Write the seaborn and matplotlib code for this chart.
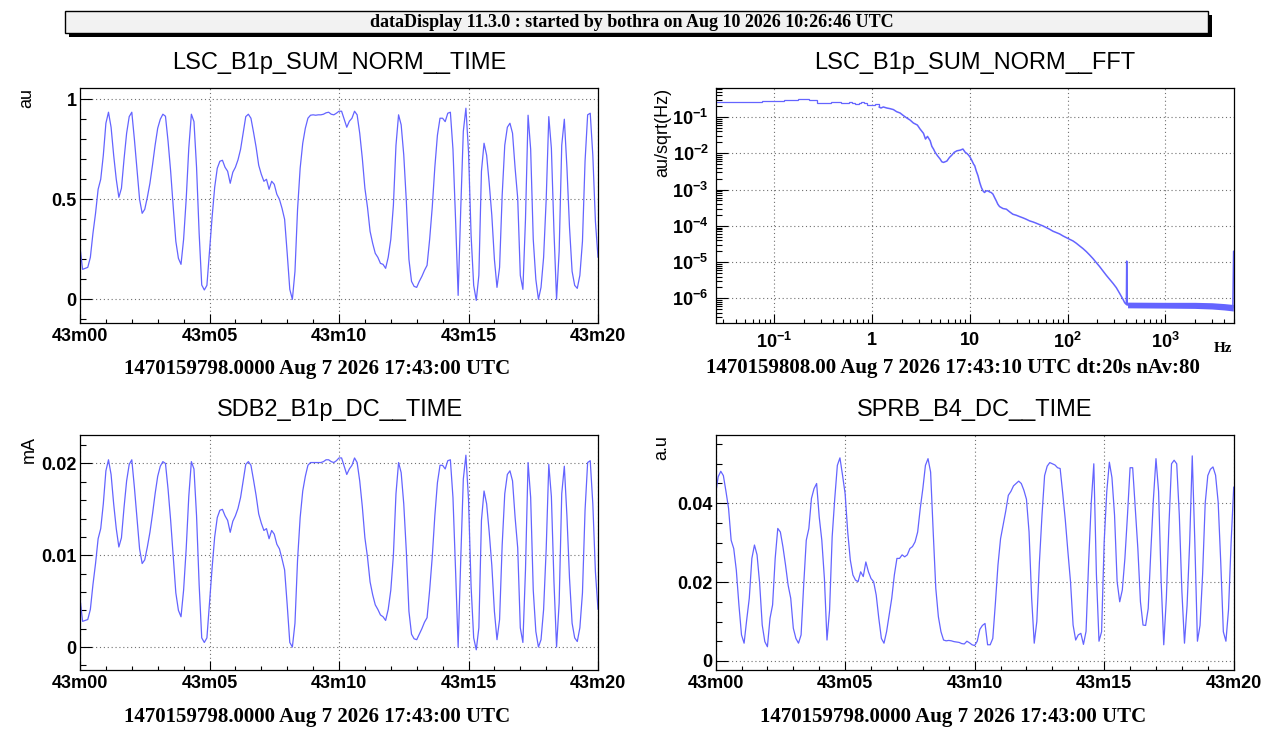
import numpy as np
import pandas as pd
import seaborn as sns
import matplotlib.pyplot as plt
from matplotlib.patches import Rectangle
from matplotlib.ticker import MultipleLocator, LogLocator, NullFormatter

W, H = 1271, 739
LINE = "#6464ff"

# ---------------- data ----------------
SAMPLE_DT = 0.1          # seconds between samples of the time series
time_ticks = [0, 5, 10, 15, 20]
time_labels = ["43m00", "43m05", "43m10", "43m15", "43m20"]

# LSC_B1p_SUM_NORM  [au]
lsc_norm = [
    0.26, 0.15, 0.155, 0.16, 0.21, 0.33, 0.43, 0.55, 0.60, 0.72,
    0.88, 0.935, 0.86, 0.72, 0.60, 0.51, 0.555, 0.70, 0.83, 0.913,
    0.935, 0.80, 0.65, 0.50, 0.43, 0.45, 0.51, 0.58, 0.672, 0.77,
    0.855, 0.90, 0.925, 0.915, 0.79, 0.64, 0.46, 0.29, 0.205, 0.175,
    0.30, 0.50, 0.755, 0.925, 0.888, 0.66, 0.33, 0.072, 0.047, 0.07,
    0.238, 0.41, 0.56, 0.655, 0.69, 0.695, 0.66, 0.64, 0.58, 0.635,
    0.66, 0.697, 0.75, 0.83, 0.913, 0.925, 0.905, 0.835, 0.76, 0.67,
    0.625, 0.59, 0.60, 0.55, 0.59, 0.575, 0.525, 0.50, 0.455, 0.40,
    0.23, 0.05, 0.0, 0.14, 0.45, 0.655, 0.78, 0.855, 0.905, 0.92,
    0.922, 0.92, 0.922, 0.922, 0.925, 0.932, 0.935, 0.925, 0.922, 0.93,
    0.94, 0.94, 0.90, 0.86, 0.89, 0.905, 0.94, 0.922, 0.83, 0.705,
    0.555, 0.46, 0.34, 0.28, 0.23, 0.21, 0.18, 0.175, 0.155, 0.21,
    0.30, 0.47, 0.77, 0.922, 0.872, 0.722, 0.49, 0.20, 0.09, 0.065,
    0.06, 0.09, 0.115, 0.145, 0.17, 0.30, 0.46, 0.66, 0.82, 0.905,
    0.905, 0.888, 0.93, 0.935, 0.75, 0.40, 0.02, 0.45, 0.84, 0.955,
    0.74, 0.32, 0.07, -0.005, 0.12, 0.64, 0.78, 0.72, 0.58, 0.42,
    0.20, 0.06, 0.16, 0.52, 0.77, 0.86, 0.88, 0.83, 0.655, 0.505,
    0.12, 0.05, 0.40, 0.92, 0.75, 0.30, 0.10, 0.00, 0.06, 0.21,
    0.50, 0.913, 0.755, 0.34, 0.00, 0.24, 0.77, 0.90, 0.66, 0.36,
    0.14, 0.07, 0.055, 0.12, 0.29, 0.69, 0.922, 0.93, 0.72, 0.39,
    0.21,
]

# SDB2_B1p_DC  [mA]
sdb2_dc = [
    0.0053, 0.0028, 0.0029, 0.0030, 0.0041, 0.0068, 0.0091, 0.0118, 0.0129, 0.0156,
    0.0192, 0.0204, 0.0188, 0.0156, 0.0129, 0.0109, 0.0119, 0.0152, 0.0181, 0.0199,
    0.0204, 0.0174, 0.0140, 0.0107, 0.0091, 0.0095, 0.0109, 0.0125, 0.0145, 0.0167,
    0.0186, 0.0197, 0.0202, 0.0200, 0.0172, 0.0138, 0.0098, 0.0059, 0.0040, 0.0033,
    0.0062, 0.0107, 0.0164, 0.0202, 0.0194, 0.0143, 0.0068, 0.0010, 0.0005, 0.0010,
    0.0048, 0.0086, 0.0120, 0.0141, 0.0149, 0.0150, 0.0143, 0.0138, 0.0125, 0.0137,
    0.0143, 0.0151, 0.0163, 0.0181, 0.0199, 0.0202, 0.0198, 0.0182, 0.0165, 0.0145,
    0.0135, 0.0127, 0.0129, 0.0118, 0.0127, 0.0123, 0.0112, 0.0107, 0.0096, 0.0084,
    0.0046, 0.0005, 0.0000, 0.0026, 0.0095, 0.0141, 0.0170, 0.0186, 0.0198, 0.0201,
    0.0201, 0.0201, 0.0201, 0.0201, 0.0202, 0.0204, 0.0204, 0.0202, 0.0201, 0.0203,
    0.0206, 0.0206, 0.0197, 0.0188, 0.0194, 0.0198, 0.0206, 0.0201, 0.0181, 0.0153,
    0.0119, 0.0098, 0.0071, 0.0057, 0.0046, 0.0041, 0.0035, 0.0033, 0.0029, 0.0041,
    0.0062, 0.0100, 0.0167, 0.0201, 0.0190, 0.0156, 0.0104, 0.0039, 0.0014, 0.0009,
    0.0008, 0.0014, 0.0020, 0.0027, 0.0032, 0.0062, 0.0098, 0.0143, 0.0179, 0.0198,
    0.0198, 0.0194, 0.0203, 0.0204, 0.0163, 0.0084, 0.0000, 0.0095, 0.0183, 0.0209,
    0.0161, 0.0066, 0.0010, -0.0003, 0.0021, 0.0138, 0.0170, 0.0156, 0.0125, 0.0089,
    0.0039, 0.0008, 0.0030, 0.0111, 0.0167, 0.0188, 0.0192, 0.0181, 0.0141, 0.0108,
    0.0021, 0.0005, 0.0084, 0.0201, 0.0163, 0.0062, 0.0017, 0.0000, 0.0008, 0.0041,
    0.0107, 0.0199, 0.0164, 0.0071, 0.0000, 0.0048, 0.0167, 0.0197, 0.0143, 0.0075,
    0.0026, 0.0010, 0.0006, 0.0021, 0.0059, 0.0149, 0.0201, 0.0203, 0.0156, 0.0082,
    0.0041,
]

# SPRB_B4_DC  [a.u]
sprb_dc = [
    0.0424, 0.0467, 0.0481, 0.0470, 0.0430, 0.0387, 0.0306, 0.0285, 0.0230, 0.0142,
    0.0066, 0.0045, 0.0104, 0.0159, 0.0260, 0.0294, 0.0269, 0.0197, 0.0091, 0.0049,
    0.0036, 0.0108, 0.0142, 0.0260, 0.0336, 0.0327, 0.0289, 0.0243, 0.0192, 0.0159,
    0.0083, 0.0057, 0.0045, 0.0066, 0.0192, 0.0306, 0.0336, 0.0412, 0.0437, 0.0450,
    0.0365, 0.0306, 0.0209, 0.0053, 0.0129, 0.0315, 0.0412, 0.0496, 0.0515, 0.0471,
    0.0424, 0.0327, 0.0256, 0.0218, 0.0205, 0.0201, 0.0226, 0.0214, 0.0251, 0.0226,
    0.0209, 0.0201, 0.0167, 0.0108, 0.0057, 0.0045, 0.0074, 0.0116, 0.0159, 0.0218,
    0.0260, 0.0260, 0.0269, 0.0264, 0.0269, 0.0285, 0.0290, 0.0302, 0.0327, 0.0387,
    0.0437, 0.0496, 0.0513, 0.0479, 0.0327, 0.0184, 0.0112, 0.0074, 0.0053, 0.0051,
    0.0052, 0.0051, 0.0049, 0.0048, 0.0047, 0.0044, 0.0043, 0.0050, 0.0046, 0.0041,
    0.0039, 0.0050, 0.0080, 0.0090, 0.0095, 0.0041, 0.0041, 0.0057, 0.0146, 0.0243,
    0.0310, 0.0345, 0.0380, 0.0420, 0.0430, 0.0444, 0.0450, 0.0456, 0.0450, 0.0433,
    0.0410, 0.0327, 0.0159, 0.0045, 0.0100, 0.0250, 0.0370, 0.0470, 0.0494, 0.0503,
    0.0500, 0.0497, 0.0490, 0.0488, 0.0425, 0.0357, 0.0277, 0.0201, 0.0091, 0.0053,
    0.0066, 0.0070, 0.0042, 0.0075, 0.0250, 0.0400, 0.0500, 0.0220, 0.0050, 0.0074,
    0.0302, 0.0429, 0.0504, 0.0465, 0.0370, 0.0201, 0.0150, 0.0180, 0.0260, 0.0370,
    0.0490, 0.0490, 0.0387, 0.0285, 0.0150, 0.0091, 0.0090, 0.0133, 0.0277, 0.0410,
    0.0513, 0.0430, 0.0201, 0.0041, 0.0159, 0.0344, 0.0500, 0.0509, 0.0500, 0.0370,
    0.0176, 0.0045, 0.0140, 0.0300, 0.0520, 0.0300, 0.0050, 0.0090, 0.0220, 0.0400,
    0.0470, 0.0486, 0.0492, 0.0471, 0.0403, 0.0250, 0.0074, 0.0050, 0.0130, 0.0300,
    0.0441,
]

# LSC_B1p_SUM_NORM FFT  [au/sqrt(Hz)]
BIN_DF = 0.05            # Hz, visible bin width at low frequency
fft_bin_a = [
    0.265, 0.277, 0.290, 0.308, 0.295, 0.249, 0.249, 0.265, 0.265, 0.249,
    0.249, 0.260, 0.244, 0.229, 0.249, 0.260, 0.239, 0.219, 0.210, 0.210,
    0.219, 0.229, 0.229,
]
fft_f = [
    1.175, 1.23, 1.30, 1.41, 1.52, 1.65, 1.78, 1.93, 2.09, 2.26,
    2.44, 2.64, 2.90, 3.09, 3.35, 3.51, 3.68, 3.92, 4.08, 4.24,
    4.41, 4.66, 4.96, 5.16, 5.37, 5.81, 6.18, 6.53, 6.90, 7.36,
    7.96, 8.48, 8.96, 9.31, 9.69, 10.07, 10.5, 10.9, 11.2, 11.6,
    12.1, 12.6, 13.1, 13.6, 14.1, 14.7, 15.3, 15.9, 16.5, 17.2,
    17.9, 18.6, 19.3, 20.1, 21.8, 23.6, 25.5, 27.5, 29.8, 32.2,
    34.9, 37.7, 40.8, 44.2, 47.8, 51.7, 55.9, 60.5, 65.4, 70.8,
    76.6, 82.8, 89.6, 96.9, 104.8, 113.4, 122.7, 132.7, 143.6, 155.3,
    168, 181.7, 196.6, 212.7, 230, 248.9, 269.2, 291.2, 315, 340.8,
    368.6, 383.4, 398.7, 402, 406, 500, 700, 1000, 1500, 2000,
    3000, 4000, 4900, 4990,
]
fft_a = [
    0.189, 0.177, 0.189, 0.177, 0.170, 0.160, 0.140, 0.129, 0.109, 0.094,
    0.0826, 0.0683, 0.060, 0.0466, 0.0354, 0.0247, 0.0292, 0.0222, 0.0155, 0.0131,
    0.0106, 0.00855, 0.00692, 0.00583, 0.0056, 0.0061, 0.00769, 0.00891, 0.0106, 0.0117,
    0.0122, 0.0131, 0.0106, 0.0099, 0.0089, 0.0077, 0.00622, 0.00503, 0.00453, 0.00329,
    0.0024, 0.00157, 0.00114, 0.00092, 0.00083, 0.00092, 0.00092, 0.00086, 0.00083, 0.00075,
    0.0006, 0.00049, 0.000395, 0.00034, 0.0003, 0.000288, 0.000243, 0.000209, 0.000196, 0.00018,
    0.000166, 0.000152, 0.000137, 0.000128, 0.000118, 0.000108, 9.95e-5, 8.95e-5, 8.05e-5, 7.1e-5,
    6.52e-5, 5.98e-5, 5.27e-5, 4.74e-5, 4.26e-5, 3.84e-5, 3.31e-5, 2.79e-5, 2.36e-5, 1.95e-5,
    1.57e-5, 1.25e-5, 9.67e-6, 7.5e-6, 5.69e-6, 4.32e-6, 3.35e-6, 2.6e-6, 1.97e-6, 1.37e-6,
    9.4e-7, 7.6e-7, 6.8e-7, 1.07e-5, 6.6e-7, 6.6e-7, 6.5e-7, 6.5e-7, 6.4e-7, 6.4e-7,
    6.2e-7, 5.8e-7, 5.5e-7, 2.0e-5,
]
# spread of the noisy floor of the spectrum
band_f = [410, 1000, 2000, 3000, 4000, 4950]
band_lo = [5.5e-7, 5.4e-7, 5.3e-7, 5.1e-7, 4.8e-7, 4.5e-7]
band_hi = [7.9e-7, 7.8e-7, 7.8e-7, 7.6e-7, 7.2e-7, 6.8e-7]

fft_ticks_x = [0.1, 1, 10, 100, 1000]
fft_labels_x = [r"$\mathbf{10^{-1}}$", "1", "10", r"$\mathbf{10^{2}}$", r"$\mathbf{10^{3}}$"]
fft_ticks_y = [1e-6, 1e-5, 1e-4, 1e-3, 1e-2, 1e-1]
fft_labels_y = [r"$\mathbf{10^{-%d}}$" % n for n in (6, 5, 4, 3, 2, 1)]

df = pd.DataFrame({"t": np.arange(len(lsc_norm)) * SAMPLE_DT,
                   "lsc": lsc_norm, "sdb2": sdb2_dc, "sprb": sprb_dc})

# ---------------- style ----------------
sns.set_theme(style="white")
plt.rcParams["font.family"] = ["Liberation Sans", "DejaVu Sans"]
plt.rcParams["text.color"] = "black"
plt.rcParams["mathtext.fontset"] = "custom"
plt.rcParams["mathtext.bf"] = "Liberation Sans:bold"
plt.rcParams["mathtext.rm"] = "Liberation Sans:bold"

fig = plt.figure(figsize=(W / 100, H / 100), dpi=100)
fig.patch.set_facecolor("white")


def px_axes(x0, y0, x1, y1):
    return fig.add_axes([x0 / W, 1 - y1 / H, (x1 - x0) / W, (y1 - y0) / H])


def ftext(x, y, s, **kw):
    fig.text(x / W, 1 - y / H, s, **kw)


def root_frame(ax):
    for sp in ax.spines.values():
        sp.set_visible(True)
        sp.set_color("black")
        sp.set_linewidth(0.9)
    ax.set_facecolor("white")
    ax.tick_params(which="both", direction="in", top=False, right=False,
                   bottom=True, left=True, color="black", width=0.8,
                   labelsize=13, labelcolor="black")
    ax.tick_params(axis="x", which="major", length=6.5)
    ax.tick_params(axis="x", which="minor", length=3.2)
    ax.tick_params(axis="y", which="major", length=8.5)
    ax.tick_params(axis="y", which="minor", length=4.3)
    ax.grid(True, which="major", linestyle=(0, (1, 2.5)), color="#707070", linewidth=0.8)
    ax.grid(False, which="minor")
    ax.set_xlabel("")
    ax.set_ylabel("")


def time_panel(ax, col, ylim, yticks, ylabels, yminor):
    sns.lineplot(data=df, x="t", y=col, ax=ax, color=LINE, linewidth=0.9, legend=False)
    root_frame(ax)
    ax.set_xlim(0, 20)
    ax.set_ylim(*ylim)
    ax.set_xticks(time_ticks, time_labels, fontweight="bold")
    ax.xaxis.set_minor_locator(MultipleLocator(1))
    ax.set_yticks(yticks, ylabels, fontweight="bold")
    ax.yaxis.set_minor_locator(MultipleLocator(yminor))
    ax.tick_params(axis="x", pad=3.5)
    ax.tick_params(axis="y", pad=2.5)


ax_tl = px_axes(80, 88, 598, 323)
ax_tr = px_axes(715.6, 88, 1233.7, 323)
ax_bl = px_axes(80, 435, 598, 670)
ax_br = px_axes(715.6, 435, 1233.7, 670)

time_panel(ax_tl, "lsc", (-0.118, 1.056), [0, 0.5, 1], ["0", "0.5", "1"], 0.1)
time_panel(ax_bl, "sdb2", (-0.0025, 0.0231), [0, 0.01, 0.02], ["0", "0.01", "0.02"], 0.002)
time_panel(ax_br, "sprb", (-0.0023, 0.0573), [0, 0.02, 0.04], ["0", "0.02", "0.04"], 0.005)

# FFT panel
ax = ax_tr
ax.set_xscale("log")
ax.set_yscale("log")
bin_f = np.arange(1, len(fft_bin_a) + 1) * BIN_DF
edges = np.append(bin_f - BIN_DF / 2, bin_f[-1] + BIN_DF / 2)
ax.stairs(fft_bin_a, edges, color=LINE, linewidth=0.9, baseline=None)
ax.plot([edges[-1], fft_f[0]], [fft_bin_a[-1], fft_a[0]], color=LINE, linewidth=0.9,
        drawstyle="steps-post")
ax.fill_between(band_f, band_lo, band_hi, color=LINE, linewidth=0)
sns.lineplot(x=fft_f, y=fft_a, ax=ax, color=LINE, linewidth=1.1, legend=False,
             estimator=None, sort=False)
root_frame(ax)
ax.set_xlim(0.025, 5000)
ax.set_ylim(2.1e-7, 0.63)
ax.set_xticks(fft_ticks_x, fft_labels_x, fontweight="bold")
ax.set_yticks(fft_ticks_y, fft_labels_y, fontweight="bold")
ax.xaxis.set_minor_locator(LogLocator(base=10, subs=np.arange(2, 10), numticks=100))
ax.yaxis.set_minor_locator(LogLocator(base=10, subs=np.arange(2, 10), numticks=100))
ax.xaxis.set_minor_formatter(NullFormatter())
ax.yaxis.set_minor_formatter(NullFormatter())
ax.tick_params(axis="x", pad=6.5)
ax.tick_params(axis="y", pad=5)

# ---------------- header box ----------------
fig.add_artist(Rectangle((69 / W, 1 - 36.7 / H), (1211.5 - 69) / W, (36.7 - 15) / H,
                         transform=fig.transFigure, facecolor="black", edgecolor="none"))
fig.add_artist(Rectangle((65 / W, 1 - 33 / H), (1208 - 65) / W, (33 - 11) / H,
                         transform=fig.transFigure, facecolor="#f2f2f2",
                         edgecolor="black", linewidth=1))
ftext(632, 27, "dataDisplay 11.3.0 : started by bothra on Aug 10 2026 10:26:46 UTC",
      ha="center", va="baseline", family="Liberation Serif", fontweight="bold", fontsize=13)

# ---------------- titles and labels ----------------
title_kw = dict(ha="center", va="baseline", fontsize=17, family="Liberation Sans")
ftext(339, 69, "LSC_B1p_SUM_NORM__TIME", **title_kw)
ftext(974.6, 68.5, "LSC_B1p_SUM_NORM__FFT", **title_kw)
ftext(339.6, 416, "SDB2_B1p_DC__TIME", **title_kw)
ftext(974.6, 416, "SPRB_B4_DC__TIME", **title_kw)

ylab_kw = dict(ha="center", va="top", rotation=90, fontsize=13, family="Liberation Sans")
ftext(27, 88, "au", **ylab_kw)
ftext(663, 88, "au/sqrt(Hz)", **ylab_kw)
ftext(29, 436, "mA", **ylab_kw)
ftext(662, 435, "a.u", **ylab_kw)

sub_kw = dict(ha="center", va="baseline", fontsize=15, family="Liberation Serif",
              fontweight="bold")
ftext(317, 374, "1470159798.0000 Aug 7 2026 17:43:00 UTC", **sub_kw)
ftext(953, 373, "1470159808.00 Aug 7 2026 17:43:10 UTC dt:20s nAv:80", **sub_kw)
ftext(317, 722, "1470159798.0000 Aug 7 2026 17:43:00 UTC", **sub_kw)
ftext(953, 722, "1470159798.0000 Aug 7 2026 17:43:00 UTC", **sub_kw)
ftext(1232, 352, "Hz", ha="right", va="baseline", fontsize=11, family="Liberation Serif",
      fontweight="bold")

fig.savefig("out.png", dpi=100, facecolor="white")
